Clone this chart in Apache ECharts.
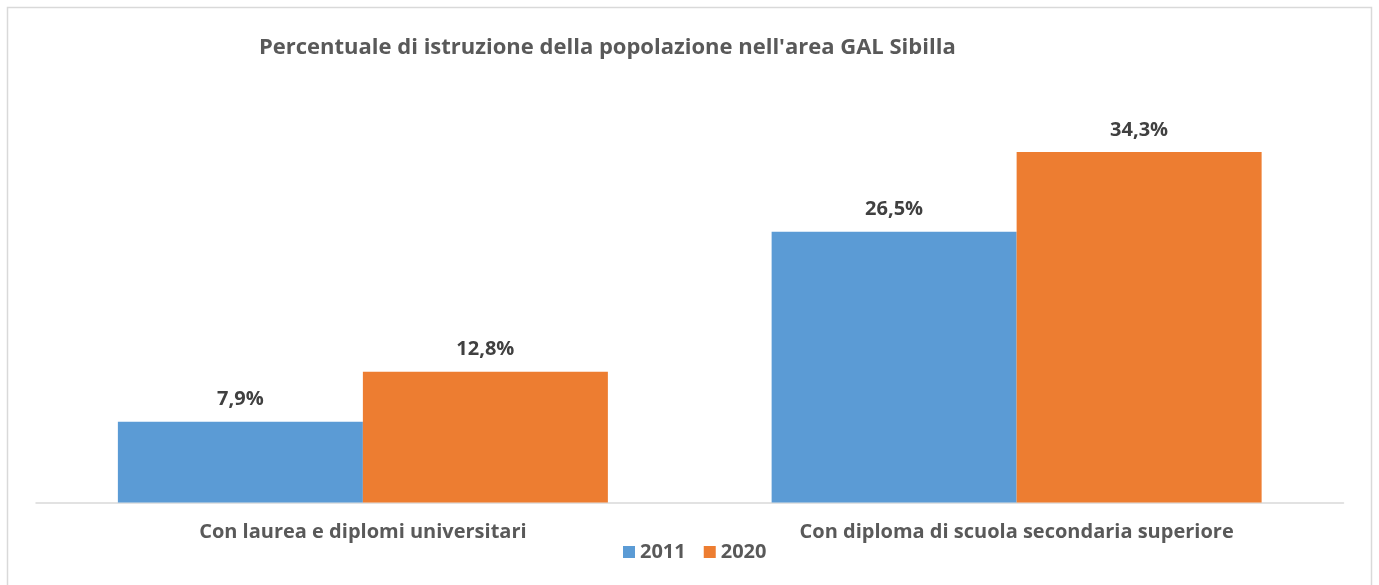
<!DOCTYPE html>
<html>
<head>
<meta charset="utf-8">
<script src="https://cdn.jsdelivr.net/npm/echarts@6/dist/echarts.min.js"></script>
<style>
  html, body { margin: 0; padding: 0; background: #fff; }
  #main { width: 1379px; height: 585px; }
</style>
</head>
<body>
<div id="main"></div>
<script>
// dati
const categories = ["Con laurea e diplomi universitari", "Con diploma di scuola secondaria superiore"];
const years = ["2011", "2020"];
const values2011 = [7.9, 26.5];
const values2020 = [12.8, 34.3];

const font = "'Open Sans', 'DejaVu Sans', sans-serif";

let myChart = echarts.init(document.getElementById("main"));

function pct(v) {
  return v.toFixed(1).replace(".", ",") + "%";
}

let option = {
  backgroundColor: "#ffffff",
  textStyle: { fontFamily: font },
  graphic: [
    {
      type: "rect",
      shape: { x: 7.5, y: 7.5, width: 1364, height: 600 },
      style: { fill: "none", stroke: "#d9d9d9", lineWidth: 1.5 },
      silent: true
    }
  ],
  title: {
    text: "Percentuale di istruzione della popolazione nell'area GAL Sibilla",
    left: 254,
    top: 32,
    textStyle: {
      fontFamily: font,
      fontSize: 22,
      fontWeight: "bold",
      color: "#595959"
    }
  },
  legend: {
    data: years,
    left: 618,
    top: 537,
    itemWidth: 12,
    itemHeight: 12,
    itemGap: 18,
    icon: "rect",
    textStyle: {
      fontFamily: font,
      fontSize: 20,
      fontWeight: "bold",
      color: "#595959"
    }
  },
  grid: {
    left: 36,
    right: 35.5,
    top: 93.7,
    bottom: 82.5,
    containLabel: false
  },
  xAxis: {
    type: "category",
    data: categories,
    axisLine: { lineStyle: { color: "#d9d9d9", width: 1.5 } },
    axisTick: { show: false },
    axisLabel: {
      margin: 20,
      fontFamily: font,
      fontSize: 20,
      fontWeight: "bold",
      color: "#595959"
    }
  },
  yAxis: {
    type: "value",
    min: 0,
    max: 40,
    show: false,
    splitLine: { show: false }
  },
  series: [
    {
      name: years[0],
      type: "bar",
      data: values2011,
      barWidth: 245,
      barGap: "0%",
      itemStyle: { color: "#5b9bd5" },
      label: {
        show: true,
        position: "top",
        distance: 12,
        formatter: p => pct(p.value),
        fontFamily: font,
        fontSize: 20,
        fontWeight: "bold",
        color: "#404040"
      }
    },
    {
      name: years[1],
      type: "bar",
      data: values2020,
      barWidth: 245,
      barGap: "0%",
      itemStyle: { color: "#ed7d31" },
      label: {
        show: true,
        position: "top",
        distance: 12,
        formatter: p => pct(p.value),
        fontFamily: font,
        fontSize: 20,
        fontWeight: "bold",
        color: "#404040"
      }
    }
  ]
};

myChart.setOption(option);
</script>
</body>
</html>
